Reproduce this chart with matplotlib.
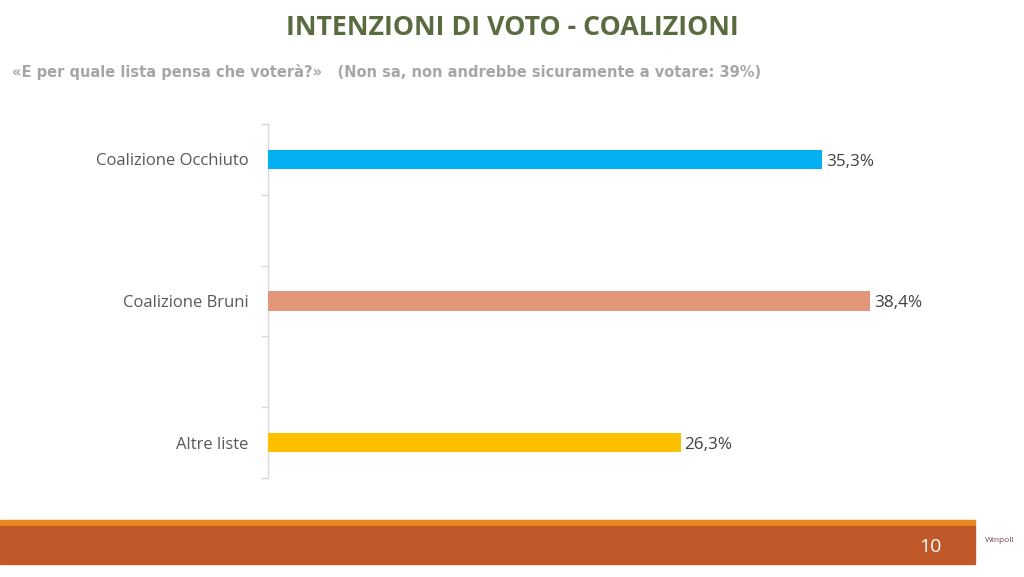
import matplotlib
matplotlib.use("Agg")
import matplotlib.pyplot as plt
from matplotlib.patches import Rectangle

categories = ["Coalizione Occhiuto", "Coalizione Bruni", "Altre liste"]
values = [35.3, 38.4, 26.3]
value_labels = ["35,3%", "38,4%", "26,3%"]
colors = ["#00B0F0", "#E2967A", "#FFC000"]
title = "INTENZIONI DI VOTO - COALIZIONI"
subtitle = "«E per quale lista pensa che voterà?»   (Non sa, non andrebbe sicuramente a votare: 39%)"
page_number = "10"

W, H = 1024, 577
fig = plt.figure(figsize=(W / 100, H / 100), dpi=100)
fig.patch.set_facecolor("white")

ax = fig.add_axes([268 / W, (H - 478) / H, (974 - 268) / W, (478 - 124) / H])
positions = [0.5, 2.5, 4.5]
ax.barh(positions, values, height=0.27, color=colors, zorder=3)
ax.set_xlim(0, 45)
ax.set_ylim(5, 0)
for s in ["top", "right", "bottom"]:
    ax.spines[s].set_visible(False)
ax.spines["left"].set_color("#D9D9D9")
ax.spines["left"].set_linewidth(1.0)
ax.set_xticks([])
ax.set_yticks(positions)
ax.set_yticklabels(categories, fontsize=12, color="#595959", family="Open Sans")
ax.tick_params(axis="y", which="major", length=0, pad=14)
ax.set_yticks([0, 1, 2, 3, 4, 5], minor=True)
ax.tick_params(axis="y", which="minor", length=5, color="#D9D9D9", width=1)

for p, v, lab in zip(positions, values, value_labels):
    ax.text(v + 0.25, p + 0.03, lab, va="center", ha="left", fontsize=12.3,
            color="#404040", family="Open Sans")

fig.text(512 / W, 1 - 28 / H, title, ha="center", va="center", fontsize=19.3,
         fontweight="bold", color="#5B6B40", family="Open Sans")
fig.text(12 / W, 1 - 72 / H, subtitle, ha="left", va="center", fontsize=10.5,
         fontweight="bold", color="#A6A6A6", family="DejaVu Sans")

# footer bands
fig.patches.append(Rectangle((0, 1 - 526 / H), 975 / W, 6 / H, transform=fig.transFigure,
                             color="#E8871E", zorder=0))
fig.patches.append(Rectangle((0, 1 - 564 / H), 975 / W, 38 / H, transform=fig.transFigure,
                             color="#C0582A", zorder=0))
fig.text(930 / W, 1 - 547 / H, page_number, ha="center", va="center", fontsize=14,
         color="white", family="Open Sans")
fig.text(1000 / W, 1 - 540 / H, "Winpoll", ha="center", va="center", fontsize=6,
         color="#7A3B5A", family="Open Sans")

fig.savefig("out.png", dpi=100, facecolor="white")
